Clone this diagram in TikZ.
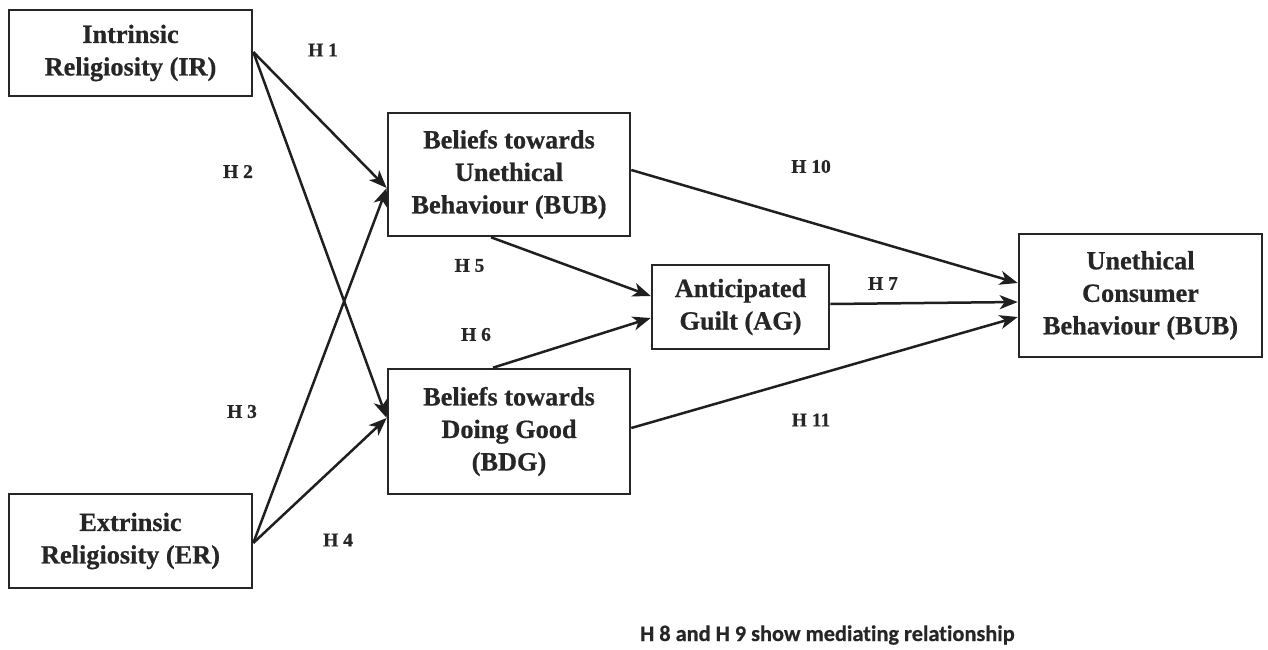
\documentclass[tikz,border=0pt]{standalone}
\usepackage{fontspec}
\setmainfont{Liberation Serif}
\newfontfamily\boxfont{Liberation Serif Bold}[FakeBold=0.6]
\newfontfamily\notefont{Carlito Bold}[Ligatures=NoCommon,FakeBold=0.4]
\usetikzlibrary{arrows.meta,calc}

\begin{document}
\begin{tikzpicture}[x=1pt,y=-1pt,
  construct/.style={draw=black!85,line width=2.6pt,inner sep=0pt,align=center,
    font=\boxfont\fontsize{26.3}{32.5}\selectfont,text=black!85},
  hlabel/.style={inner sep=0pt,font=\boxfont\fontsize{19.5}{20}\selectfont,text=black!85},
  hpath/.style={draw=black!88,line width=2.5pt,
    -{Stealth[length=18pt,width=14pt,inset=5pt,fill=black!88]}}]

  % canvas
  \useasboundingbox (0,0) rectangle (1268,650);
  \fill[white] (0,0) rectangle (1268,650);

  % constructs
  \node[construct,minimum width=243pt,minimum height=86pt]  (IR)  at (130.5,53)   {Intrinsic\\Religiosity (IR)};
  \node[construct,minimum width=243pt,minimum height=94pt]  (ER)  at (130.5,541)  {Extrinsic\\Religiosity (ER)};
  \node[construct,minimum width=242pt,minimum height=123pt] (BUB) at (509,174.5)  {Beliefs towards\\Unethical\\Behaviour (BUB)};
  \node[construct,minimum width=242pt,minimum height=125pt] (BDG) at (509,431.5)  {Beliefs towards\\Doing Good\\(BDG)};
  \node[construct,minimum width=177pt,minimum height=84pt]  (AG)  at (740.5,307)  {Anticipated\\Guilt (AG)};
  \node[construct,minimum width=243pt,minimum height=123pt] (UCB) at (1140.5,295.5) {Unethical\\Consumer\\Behaviour (BUB)};

  % connector end points on the box sides
  \coordinate (irOut)   at ($(IR.east)+(0,-1)$);
  \coordinate (erOut)   at ($(ER.east)+(0,2)$);
  \coordinate (bubIn)   at ($(BUB.west)+(0,13.5)$);
  \coordinate (bdgIn)   at ($(BDG.west)+(0,-13.5)$);
  \coordinate (bubDown) at ($(BUB.south)+(-18,0)$);
  \coordinate (bdgUp)   at ($(BDG.north)+(-16,0)$);
  \coordinate (agInA)   at ($(AG.west)+(0,-11)$);
  \coordinate (agInB)   at ($(AG.west)+(0,11)$);
  \coordinate (bubOut)  at ($(BUB.east)+(0,-4.5)$);
  \coordinate (bdgOut)  at ($(BDG.east)+(0,-3.5)$);
  \coordinate (agOut)   at ($(AG.east)+(0,-3)$);
  \coordinate (ucbInA)  at ($(UCB.west)+(0,-12.5)$);
  \coordinate (ucbInB)  at ($(UCB.west)+(0,6.5)$);
  \coordinate (ucbInC)  at ($(UCB.west)+(0,21.5)$);

  % hypothesised paths
  \draw[hpath] (irOut)   -- (bubIn);
  \draw[hpath] (irOut)   -- (bdgIn);
  \draw[hpath] (erOut)   -- (bubIn);
  \draw[hpath] (erOut)   -- (bdgIn);
  \draw[hpath] (bubDown) -- (agInA);
  \draw[hpath] (bdgUp)   -- (agInB);
  \draw[hpath] (bubOut)  -- (ucbInA);
  \draw[hpath] (agOut)   -- (ucbInB);
  \draw[hpath] (bdgOut)  -- (ucbInC);

  % hypothesis labels
  \node[hlabel] (h1)  at (323,50)    {H 1};
  \node[hlabel] (h2)  at (238,171.5) {H 2};
  \node[hlabel] (h3)  at (242,411.5) {H 3};
  \node[hlabel] (h4)  at (338,540)   {H 4};
  \node[hlabel] (h5)  at (469.5,265.5) {H 5};
  \node[hlabel] (h6)  at (476,334.5) {H 6};
  \node[hlabel] (h7)  at (883,283.5) {H 7};
  \node[hlabel] (h10) at (811,166.5) {H 10};
  \node[hlabel] (h11) at (811,420)   {H 11};

  % note
  \node[anchor=base west,inner sep=0pt,font=\notefont\fontsize{22.3}{26}\selectfont,text=black!85]
    (note) at (640,641) {H 8 and H 9 show mediating relationship};
\end{tikzpicture}
\end{document}
